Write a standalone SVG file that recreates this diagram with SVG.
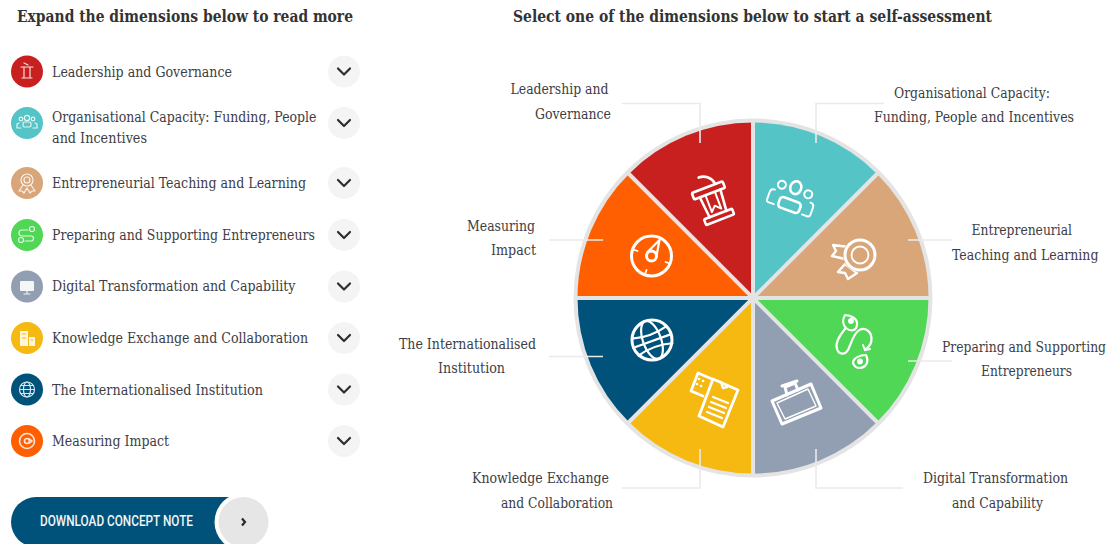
<svg xmlns="http://www.w3.org/2000/svg" width="1114" height="544" viewBox="0 0 1114 544">
<style>
text{font-family:"DejaVu Serif Condensed","DejaVu Serif","Liberation Serif",serif;fill:#3d3d45}
.h{font-size:16px;font-weight:700;fill:#333}
.t{font-size:14.5px}
.l{fill:none;stroke:#eaeaea;stroke-width:1.6}
.i{fill:none;stroke:#fff;stroke-width:2.6;stroke-linejoin:round;stroke-linecap:round}
.f{fill:none;stroke:#fff;stroke-width:1.4;stroke-linejoin:round;stroke-linecap:round}
.s{fill:none;stroke:#fff;stroke-width:1.2;stroke-linejoin:round;stroke-linecap:round;opacity:.85}
.b{fill:#f4f4f4}
.c{fill:none;stroke:#2e2e2e;stroke-width:2.2;stroke-linecap:round;stroke-linejoin:round}
</style>
<defs>
<path id="chev" d="M-6,-3 L0,3 L6,-3"/>
</defs>
<rect width="1114" height="544" fill="#fff"/>
<text class="h" x="17" y="22" textLength="336" lengthAdjust="spacingAndGlyphs">Expand the dimensions below to read more</text>
<text class="h" x="513" y="22" textLength="479" lengthAdjust="spacingAndGlyphs">Select one of the dimensions below to start a self-assessment</text>

<g id="item-leadership"><circle cx="27" cy="71.5" r="16" fill="#c8201e"/><path class="s" d="M21,67h12M24,67v11M30,67v11M22,78h10M24,63l4,2"/><text class="t" x="52" y="76.5" textLength="180" lengthAdjust="spacingAndGlyphs">Leadership and Governance</text><circle class="b" cx="344" cy="71.5" r="16"/><use href="#chev" class="c" x="344" y="71.5"/></g>
<g id="item-capacity"><circle cx="27" cy="123" r="16" fill="#54c4c6"/><g class="s"><circle cx="27" cy="118" r="2.6"/><circle cx="21" cy="119" r="1.8"/><circle cx="33" cy="119" r="1.8"/><rect x="23" y="122" width="8" height="5" rx="1.5"/><path d="M17,128v-4l2,-1M37,128v-4l-2,-1M17,128h4M37,128h-4"/></g><text class="t" x="52" y="122" textLength="264.500" lengthAdjust="spacingAndGlyphs">Organisational Capacity: Funding, People</text><text class="t" x="52" y="143" textLength="95" lengthAdjust="spacingAndGlyphs">and Incentives</text><circle class="b" cx="344" cy="123" r="16"/><use href="#chev" class="c" x="344" y="123"/></g>
<g id="item-teaching"><circle cx="27" cy="183" r="16" fill="#d9a679"/><g class="s"><circle cx="27" cy="180" r="6"/><circle cx="27" cy="180" r="3"/><path d="M23,185l-4,6 3,0 2,2 3,-5M31,185l4,6 -3,0 -2,2 -3,-5"/></g><text class="t" x="52" y="188" textLength="254" lengthAdjust="spacingAndGlyphs">Entrepreneurial Teaching and Learning</text><circle class="b" cx="344" cy="183" r="16"/><use href="#chev" class="c" x="344" y="183"/></g>
<g id="item-preparing"><circle cx="27" cy="235" r="16" fill="#50d756"/><g class="s"><circle cx="32" cy="229" r="2.5"/><circle cx="21" cy="240" r="2.5"/><path d="M28,230h-6a3,3 0 0 0 0,6h9a2.500,2.500 0 0 1 0,5h-6"/></g><text class="t" x="52" y="240" textLength="263" lengthAdjust="spacingAndGlyphs">Preparing and Supporting Entrepreneurs</text><circle class="b" cx="344" cy="235" r="16"/><use href="#chev" class="c" x="344" y="235"/></g>
<g id="item-digital"><circle cx="27" cy="286.500" r="16" fill="#929eb2"/><rect x="20" y="281" width="14" height="10" rx="1" fill="#fff" opacity=".9"/><path class="s" d="M27,291v3M24,294h6"/><text class="t" x="52" y="291" textLength="243.500" lengthAdjust="spacingAndGlyphs">Digital Transformation and Capability</text><circle class="b" cx="344" cy="286.500" r="16"/><use href="#chev" class="c" x="344" y="286.500"/></g>
<g id="item-knowledge"><circle cx="27" cy="338" r="16" fill="#f5b911"/><path d="M20,331h8v15h-8zM29,337h6v9h-6z" fill="#fff" opacity=".85"/><path d="M22,334h4M22,338h4M31,340h2" stroke="#f5b911" stroke-width="1.200"/><text class="t" x="52" y="343" textLength="256" lengthAdjust="spacingAndGlyphs">Knowledge Exchange and Collaboration</text><circle class="b" cx="344" cy="338" r="16"/><use href="#chev" class="c" x="344" y="338"/></g>
<g id="item-international"><circle cx="27" cy="389.500" r="16" fill="#00527a"/><g class="s"><circle cx="27" cy="389.500" r="7.500"/><ellipse cx="27" cy="389.500" rx="3.500" ry="7.500"/><path d="M19.500,389.500h15M20.500,385.500h13M20.500,393.500h13"/></g><text class="t" x="52" y="394.500" textLength="211" lengthAdjust="spacingAndGlyphs">The Internationalised Institution</text><circle class="b" cx="344" cy="389.500" r="16"/><use href="#chev" class="c" x="344" y="389.500"/></g>
<g id="item-impact"><circle cx="27" cy="441" r="16" fill="#ff5f00"/><g class="s" style="stroke-width:1.600"><circle cx="27" cy="441" r="7.500"/><circle cx="27" cy="441" r="2.500"/><path d="M29,439l3,2 -3,2"/></g><text class="t" x="52" y="446" textLength="117" lengthAdjust="spacingAndGlyphs">Measuring Impact</text><circle class="b" cx="344" cy="441" r="16"/><use href="#chev" class="c" x="344" y="441"/></g>

<g id="download-button">
<path d="M36,497H240V547H36A25,25 0 0 1 36,497Z" fill="#00527a"/>
<circle cx="243.500" cy="522" r="29" fill="#fff"/>
<circle cx="243.500" cy="522" r="25" fill="#e6e6e6"/>
<path d="M242,518.500l3,3.500 -3,3.500" fill="none" stroke="#2a2a2a" stroke-width="2.200"/>
<text x="40" y="526" textLength="153" lengthAdjust="spacingAndGlyphs" style="font-family:Roboto,'Liberation Sans',sans-serif;font-size:14px;font-weight:500;fill:#f2f6f8">DOWNLOAD CONCEPT NOTE</text>
</g>

<g id="wheel">
<circle cx="753" cy="298" r="179.500" fill="#e4e4e4"/>
<g id="seg-leadership"><path d="M753,298V122.500A175.500,175.500 0 0 0 628.900,173.900Z" fill="#c8201e"/></g>
<g id="seg-capacity"><path d="M753,298V122.500A175.500,175.500 0 0 1 877.100,173.900Z" fill="#54c4c6"/></g>
<g id="seg-teaching"><path d="M753,298L877.100,173.900A175.500,175.500 0 0 1 928.500,298Z" fill="#d9a679"/></g>
<g id="seg-preparing"><path d="M753,298H928.500A175.500,175.500 0 0 1 877.100,422.100Z" fill="#50d756"/></g>
<g id="seg-digital"><path d="M753,298L877.100,422.100A175.500,175.500 0 0 1 753,473.500Z" fill="#929eb2"/></g>
<g id="seg-knowledge"><path d="M753,298V473.500A175.500,175.500 0 0 1 628.900,422.100Z" fill="#f5b911"/></g>
<g id="seg-international"><path d="M753,298L628.900,422.100A175.500,175.500 0 0 1 577.500,298Z" fill="#00527a"/></g>
<g id="seg-impact"><path d="M753,298H577.500A175.500,175.500 0 0 1 628.900,173.900Z" fill="#ff5f00"/></g>
<path d="M753,120V476M575,298H931M627,172L879,424M879,172L627,424" stroke="#e4e4e4" stroke-width="4" fill="none"/>

<g transform="translate(713,201) rotate(-21)">
<rect class="i" x="-17" y="-15" width="33" height="7" rx="1.500"/>
<path class="i" d="M-11,-8L-9,14M11,-8L9,14"/>
<rect class="i" x="-15" y="14" width="30" height="6" rx="1"/>
<path class="f" style="stroke-width:2" d="M-5,-7V10L0,5 5,10V-7"/>
<path class="i" d="M8,-16C7,-23 1,-27 -5,-27"/>
</g>
<g transform="translate(792,198) rotate(20)">
<ellipse class="i" cx="0" cy="-11" rx="5.500" ry="6.500"/>
<rect class="i" x="-11" y="2" width="22" height="11" rx="3.500"/>
<circle class="f" style="stroke-width:2" cx="-14" cy="-9" r="4"/>
<circle class="f" style="stroke-width:2" cx="14" cy="-9" r="4"/>
<path class="f" style="stroke-width:2" d="M-15,12H-21Q-23,12 -23,9V2Q-23,-2 -19,-2M15,12H21Q23,12 23,9V2Q23,-2 19,-2"/>
</g>
<g id="medal-icon">
<path d="M833,245L849,247 845,259 832,256 836,251Z" class="i" style="stroke-width:2.400"/>
<path d="M845,264L857,273 848,279 845,273 838,272Z" class="i" style="stroke-width:2.400"/>
<circle cx="860" cy="255" r="17" fill="#d9a679"/>
<circle class="i" style="stroke-width:3" cx="860" cy="255" r="15"/>
<circle class="f" style="stroke-width:1.800" cx="860" cy="255" r="8.500"/>
</g>
<g transform="translate(651.500,256)">
<circle class="i" style="stroke-width:3" r="20"/>
<circle class="i" style="stroke-width:3" cy="0" r="5"/>
<path class="i" style="stroke-width:2.200" d="M-4,-4L8,-16 5,0"/>
<path class="f" style="stroke-width:1.800" d="M-17,-6l3,1M17,7l-3,-1M-6,17l1,-3"/>
</g>
<g transform="translate(652,340)">
<circle class="i" style="stroke-width:3" r="20"/>
<g transform="rotate(-20)" class="i" style="stroke-width:2.200">
<ellipse rx="9" ry="20"/>
<path d="M-18,-8Q0,-3 18,-8M-20,1H20M-18,10Q0,5 18,10"/>
</g>
</g>
<g id="doc-icon" class="i" style="stroke-width:2.800">
<path d="M712,379L698,373 691,391 703,396"/>
<path d="M713,379L738,390 723,427 699,416Z"/>
<path class="f" style="stroke-width:2.400" d="M721,382L723,388 727,387 726,385"/>
<path class="f" style="stroke-width:2.200" d="M713,397L728,403M711,402L726,408M709,407L724,413M707,412L722,418"/>
<path class="f" style="stroke-width:2.600" d="M699,379h.1M703,381h.1M697,384h.1M701,386h.1"/>
</g>
<g id="board-icon" class="i" style="stroke-width:3">
<path d="M772,401L811,384 821,408 782,424Z"/>
<path class="f" style="stroke-width:1.400" d="M777,403L808,389 816,406 785,419Z"/>
<path d="M787,395L785,387 795,383 798,390M782,386L797,381"/>
</g>
<g id="path-icon" class="i" style="stroke-width:2.200">
<path d="M845,315C851,315 858,319 857,325 856,331 851,332 846,328 843,325 842,320 845,315Z"/>
<circle cx="851" cy="321" r="1.800" fill="#fff"/>
<path d="M866,355C860,355 853,358 853,363 855,369 861,369 865,366 868,363 868,359 866,355Z"/>
<circle cx="860" cy="361.500" r="1.800" fill="#fff"/>
<path d="M845,329C839,336 835,343 837,349 839,355 845,355 848,350 851,344 853,335 858,331 864,326 871,331 871.500,338 872,343 869,347 865,350"/>
<path d="M863,345L865,350 870,349" class="f" style="stroke-width:2"/>
</g>
</g>

<g id="connectors" class="l">
<path d="M622,103.500H700V143"/>
<path d="M549,240H603"/>
<path d="M884,103.500H816V143"/>
<path d="M952,240H908"/>
<path d="M549,356.500H603"/>
<path d="M622,488H700V449"/>
<path d="M903,488H816V449"/>
<path d="M952,361H908"/>
</g>

<g id="labels">
<text class="t" x="510.500" y="94" textLength="98" lengthAdjust="spacingAndGlyphs">Leadership and</text>
<text class="t" x="535" y="118.500" textLength="76" lengthAdjust="spacingAndGlyphs">Governance</text>
<text class="t" x="467" y="231" textLength="68" lengthAdjust="spacingAndGlyphs">Measuring</text>
<text class="t" x="491" y="255" textLength="45" lengthAdjust="spacingAndGlyphs">Impact</text>
<text class="t" x="894" y="98" textLength="156" lengthAdjust="spacingAndGlyphs">Organisational Capacity:</text>
<text class="t" x="874" y="122" textLength="200" lengthAdjust="spacingAndGlyphs">Funding, People and Incentives</text>
<text class="t" x="971.500" y="235" textLength="100.500" lengthAdjust="spacingAndGlyphs">Entrepreneurial</text>
<text class="t" x="952" y="260" textLength="146.500" lengthAdjust="spacingAndGlyphs">Teaching and Learning</text>
<text class="t" x="399" y="349" textLength="137" lengthAdjust="spacingAndGlyphs">The Internationalised</text>
<text class="t" x="438" y="373" textLength="67" lengthAdjust="spacingAndGlyphs">Institution</text>
<text class="t" x="472" y="483" textLength="137" lengthAdjust="spacingAndGlyphs">Knowledge Exchange</text>
<text class="t" x="501" y="507.500" textLength="112" lengthAdjust="spacingAndGlyphs">and Collaboration</text>
<text class="t" x="942" y="352" textLength="164" lengthAdjust="spacingAndGlyphs">Preparing and Supporting</text>
<text class="t" x="981" y="376" textLength="91" lengthAdjust="spacingAndGlyphs">Entrepreneurs</text>
<text class="t" x="923" y="483" textLength="145" lengthAdjust="spacingAndGlyphs">Digital Transformation</text>
<text class="t" x="952" y="507.500" textLength="91" lengthAdjust="spacingAndGlyphs">and Capability</text>
</g>
</svg>
